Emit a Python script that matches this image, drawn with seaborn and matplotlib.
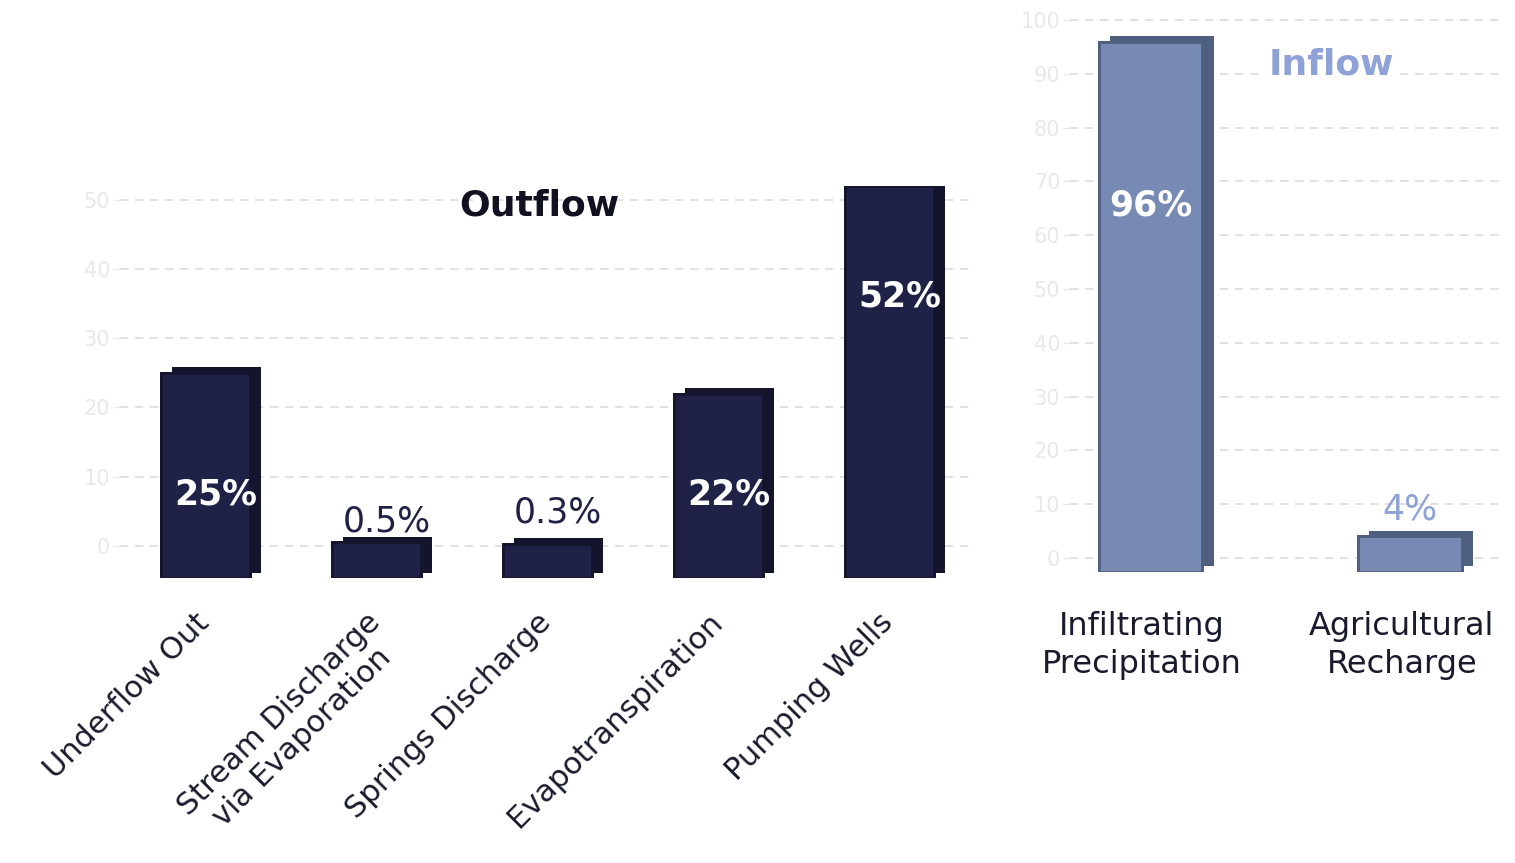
import matplotlib
matplotlib.use("Agg")
import matplotlib.pyplot as plt
import matplotlib.patheffects as pe
import matplotlib.transforms as mtrans
import seaborn as sns

# ---- data ----
out_categories = ["Underflow Out", "Stream Discharge\nvia Evaporation", "Springs Discharge",
                  "Evapotranspiration", "Pumping Wells"]
out_values = [25, 0.5, 0.3, 22, 52]
out_labels = ["25%", "0.5%", "0.3%", "22%", "52%"]
out_ticks = [0, 10, 20, 30, 40, 50]

in_categories = ["Infiltrating\nPrecipitation", "Agricultural\nRecharge"]
in_values = [96, 4]
in_labels = ["96%", "4%"]
in_ticks = [0, 10, 20, 30, 40, 50, 60, 70, 80, 90, 100]

# label placement (style)
out_label_y = [7.5, 3.6, 4.8, 7.5, 36]
out_label_inside = [True, False, False, True, True]
in_label_y = [65.5, 9]
in_label_inside = [True, False]

navy = "#1f2146"
navy_dark = "#14152d"
steel = "#768ab4"
steel_dark = "#4e5f80"
light_blue = "#8ea2d8"
tick_col = "#e8e8e8"
grid_col = "#dcdcdc"

sns.set_theme(style="white")
plt.rcParams['font.family'] = ['DejaVu Sans']

fig = plt.figure(figsize=(15.15, 8.63), dpi=100)
ax1 = fig.add_axes([0.0792, 0.3297, 0.5644, 0.4548])
ax2 = fig.add_axes([0.7063, 0.3372, 0.2870, 0.6458])


def style_axis(ax, ticks, ylim):
    ax.set_ylim(*ylim)
    ax.set_yticks(ticks)
    ax.yaxis.grid(True, linestyle=(0, (5, 4)), color=grid_col, linewidth=1.2)
    ax.set_axisbelow(True)
    for s in ax.spines.values():
        s.set_visible(False)
    ax.tick_params(axis='y', colors=tick_col, labelsize=15, length=5, width=1, pad=2, left=True)
    ax.tick_params(axis='x', length=0)
    ax.set_xlabel("")
    ax.set_ylabel("")


def extend_to_base(ax, shade):
    # pseudo-3D: front face of each bar sits on the plinth at the axis floor
    base = ax.get_ylim()[0]
    for p in ax.patches:
        top = p.get_y() + p.get_height()
        p.set_y(base)
        p.set_height(top - base)
        p.set_path_effects([pe.withSimplePatchShadow(offset=(8, 4), shadow_rgbFace=shade, alpha=1.0),
                            pe.Normal()])


# ---- Outflow ----
sns.barplot(x=out_categories, y=out_values, ax=ax1, color=navy, width=0.52,
            saturation=1, edgecolor=navy_dark, linewidth=2)
style_axis(ax1, out_ticks, (-4.7, 52))
extend_to_base(ax1, navy_dark)
ax1.set_xlim(-0.5, 4.5)
ax1.set_xticks(range(len(out_categories)))
ax1.set_xticklabels(out_categories, rotation=45, ha='right', va='top',
                    rotation_mode='anchor', fontsize=22, color="#1a1a2e",
                    multialignment='center', linespacing=1.15)
ax1.tick_params(axis='x', pad=21)
shift = mtrans.ScaledTranslation(-8 / 72, 0, fig.dpi_scale_trans)
for t in ax1.get_xticklabels():
    t.set_transform(t.get_transform() + shift)
for i, (lab, y, inside) in enumerate(zip(out_labels, out_label_y, out_label_inside)):
    ax1.text(i + 0.06, y, lab, ha='center', va='center', fontsize=25,
             fontweight='bold' if inside else 'normal',
             color='white' if inside else navy)
ax1.text(0.49, 0.95, "Outflow", transform=ax1.transAxes, ha='center', va='center',
         fontsize=26, fontweight='bold', color="#111122")

# ---- Inflow ----
sns.barplot(x=in_categories, y=in_values, ax=ax2, color=steel, width=0.40,
            saturation=1, edgecolor=steel_dark, linewidth=2)
style_axis(ax2, in_ticks, (-2.6, 101))
extend_to_base(ax2, steel_dark)
ax2.set_xlim(-0.31, 1.365)
ax2.set_xticks(range(len(in_categories)))
ax2.set_xticklabels(in_categories, fontsize=23, color="#1a1a2e", ha='center',
                    linespacing=1.3)
ax2.tick_params(axis='x', pad=28)
shift2 = mtrans.ScaledTranslation(-6 / 72, 0, fig.dpi_scale_trans)
for t in ax2.get_xticklabels():
    t.set_transform(t.get_transform() + shift2)
for i, (lab, y, inside) in enumerate(zip(in_labels, in_label_y, in_label_inside)):
    ax2.text(i + 0.0, y, lab, ha='center', va='center', fontsize=25,
             fontweight='bold' if inside else 'normal',
             color='white' if inside else light_blue)
ax2.text(0.60, 0.91, "Inflow", transform=ax2.transAxes, ha='center', va='center',
         fontsize=26, fontweight='bold', color=light_blue,
         bbox=dict(facecolor='white', edgecolor='none', pad=2))

fig.savefig("out.png", dpi=100, facecolor='white')
